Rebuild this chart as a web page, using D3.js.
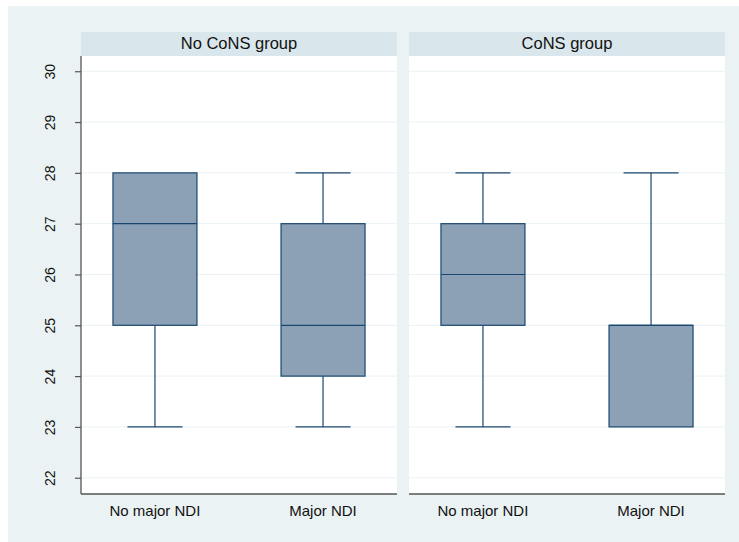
<!DOCTYPE html>
<html>
<head>
<meta charset="utf-8">
<script src="https://cdn.jsdelivr.net/npm/d3@7"></script>
<style>
html,body{margin:0;padding:0;background:#fff;}
svg{display:block;font-family:"Liberation Sans",Arial,sans-serif;}
</style>
</head>
<body>
<div id="chart"></div>
<script>
const panels = ["No CoNS group", "CoNS group"];
const categories = ["No major NDI", "Major NDI"];
// [panel][category]
const mins    = [[23, 23], [23, 23]];
const q1s     = [[25, 24], [25, 23]];
const medians = [[27, 25], [26, 25]];
const q3s     = [[28, 27], [27, 25]];
const maxs    = [[28, 28], [28, 28]];
const yTicks  = [22, 23, 24, 25, 26, 27, 28, 29, 30];

const W = 739, H = 542;
const svg = d3.select("#chart").append("svg").attr("width", W).attr("height", H);

svg.append("rect").attr("x", 8).attr("y", 6).attr("width", W - 8).attr("height", H - 6).attr("fill", "#eaf2f3");

const plotTop = 56, plotBottom = 494, stripTop = 32;
const panelX = [[81, 397], [409, 725]];

const y = d3.scaleLinear().domain([21.68, 30.3]).range([plotBottom, plotTop]);

const boxW = 84, capW = 55;
const boxFill = "#8ca1b6", stroke = "#1a476f";

panels.forEach((pname, pi) => {
  const [x0, x1] = panelX[pi];
  const x = d3.scalePoint().domain(categories).range([x0, x1]).padding(0.44);
  const g = svg.append("g");

  // strip
  g.append("rect").attr("x", x0).attr("y", stripTop).attr("width", x1 - x0).attr("height", plotTop - stripTop).attr("fill", "#d9e6eb");
  g.append("text").attr("x", (x0 + x1) / 2).attr("y", 48.5).attr("text-anchor", "middle")
    .attr("font-size", 16.5).attr("fill", "#111").text(pname);

  // plot area
  g.append("rect").attr("x", x0).attr("y", plotTop).attr("width", x1 - x0).attr("height", plotBottom - plotTop).attr("fill", "#fff");

  // gridlines
  g.selectAll(".grid").data(yTicks).enter().append("line")
    .attr("x1", x0).attr("x2", x1).attr("y1", d => y(d)).attr("y2", d => y(d))
    .attr("stroke", "#eaf2f3").attr("stroke-width", 1);

  // boxes
  categories.forEach((c, ci) => {
    const cx = x(c);
    const lo = mins[pi][ci], a = q1s[pi][ci], m = medians[pi][ci], b = q3s[pi][ci], hi = maxs[pi][ci];
    // whiskers
    if (hi > b) {
      g.append("line").attr("x1", cx).attr("x2", cx).attr("y1", y(b)).attr("y2", y(hi)).attr("stroke", stroke).attr("stroke-width", 1.2);
      g.append("line").attr("x1", cx - capW / 2).attr("x2", cx + capW / 2).attr("y1", y(hi)).attr("y2", y(hi)).attr("stroke", stroke).attr("stroke-width", 1.2);
    }
    if (lo < a) {
      g.append("line").attr("x1", cx).attr("x2", cx).attr("y1", y(a)).attr("y2", y(lo)).attr("stroke", stroke).attr("stroke-width", 1.2);
      g.append("line").attr("x1", cx - capW / 2).attr("x2", cx + capW / 2).attr("y1", y(lo)).attr("y2", y(lo)).attr("stroke", stroke).attr("stroke-width", 1.2);
    }
    g.append("rect").attr("x", cx - boxW / 2).attr("y", y(b)).attr("width", boxW).attr("height", y(a) - y(b))
      .attr("fill", boxFill).attr("stroke", stroke).attr("stroke-width", 1.2);
    g.append("line").attr("x1", cx - boxW / 2).attr("x2", cx + boxW / 2).attr("y1", y(m)).attr("y2", y(m)).attr("stroke", stroke).attr("stroke-width", 1.2);

    g.append("text").attr("x", cx).attr("y", 515.5).attr("text-anchor", "middle")
      .attr("font-size", 15).attr("fill", "#111").text(c);
  });

  // bottom axis line
  g.append("line").attr("x1", x0).attr("x2", x1).attr("y1", plotBottom).attr("y2", plotBottom).attr("stroke", "#555").attr("stroke-width", 1.3);

  if (pi === 0) {
    const yAxis = d3.axisLeft(y).tickValues(yTicks).tickSize(6).tickSizeOuter(0).tickFormat(d3.format("d"));
    const ag = g.append("g").attr("transform", `translate(${x0},0)`).call(yAxis);
    ag.select(".domain").attr("stroke", "#555").attr("stroke-width", 1.3).attr("d", `M0,${plotTop}V${plotBottom}`);
    ag.selectAll(".tick line").attr("stroke", "#555").attr("stroke-width", 1.2);
    ag.selectAll(".tick text")
      .attr("font-size", 14).attr("fill", "#111").attr("font-family", "Liberation Sans, Arial, sans-serif")
      .attr("text-anchor", "middle").attr("x", null).attr("dy", null)
      .attr("transform", "translate(-26,0) rotate(-90)").attr("y", 0).attr("dy", "0.02em");
  }
});
</script>
</body>
</html>
